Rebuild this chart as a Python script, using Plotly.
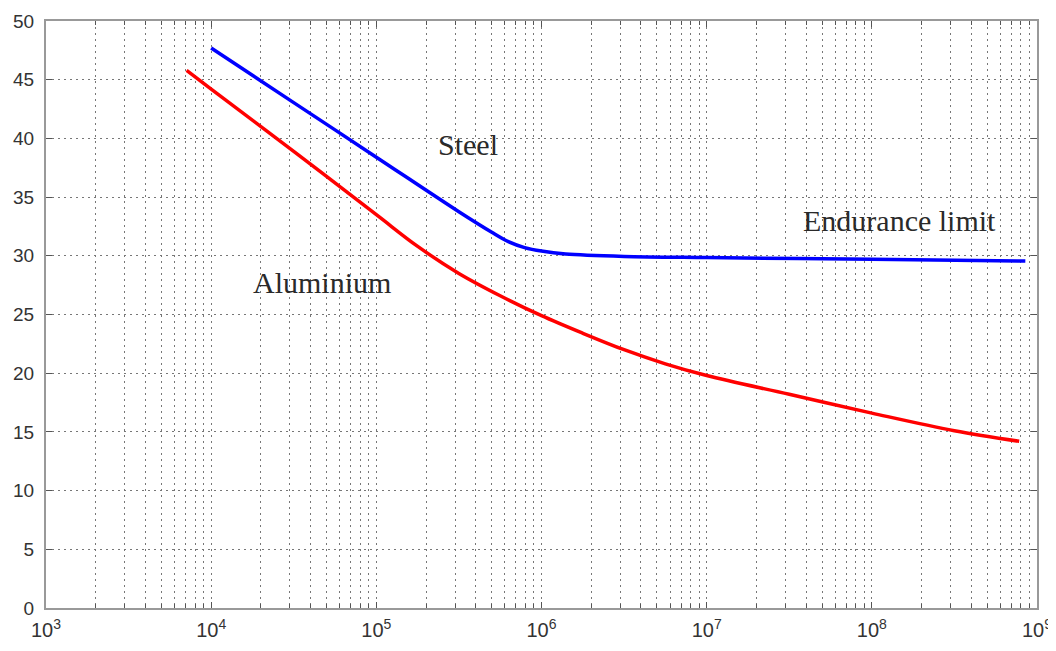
import math
import plotly.graph_objects as go

# ---- data ----
steel_N = [1.0e4, 3.16e4, 1.0e5, 3.16e5, 5.0e5, 6.3e5, 7.9e5, 1.0e6, 1.4e6, 3.16e6, 1.0e7, 1.0e8, 8.5e8]
steel_S = [47.7, 43.05, 38.4, 33.75, 32.0, 31.2, 30.7, 30.4, 30.15, 29.95, 29.85, 29.7, 29.55]

alu_N = [7.1e3, 1.0e4, 3.16e4, 1.0e5, 1.78e5, 3.16e5, 5.62e5, 1.0e6, 1.78e6, 3.16e6,
         5.62e6, 1.0e7, 3.16e7, 1.0e8, 3.16e8, 7.8e8]
alu_S = [45.8, 44.2, 38.9, 33.5, 30.8, 28.5, 26.6, 24.9, 23.4, 22.0,
         20.8, 19.8, 18.2, 16.6, 15.1, 14.2]

x_exponents = [3, 4, 5, 6, 7, 8, 9]
x_tickvals = [10 ** e for e in x_exponents]
x_ticktext = ["10<sup>%d</sup>" % e for e in x_exponents]
x_minor = [m * 10 ** e for e in x_exponents[:-1] for m in range(2, 10)]
y_tickvals = [0, 5, 10, 15, 20, 25, 30, 35, 40, 45, 50]

labels = ["Steel", "Aluminium", "Endurance limit"]
label_N = [2.29e5, 1.74e4, 3.70e7]
label_S = [39.45, 27.7, 33.0]

fig = go.Figure()
fig.add_trace(go.Scatter(x=steel_N, y=steel_S, mode="lines", name="Steel",
                         line=dict(color="#0000FF", width=3.5, shape="spline", smoothing=0.9)))
fig.add_trace(go.Scatter(x=alu_N, y=alu_S, mode="lines", name="Aluminium",
                         line=dict(color="#FF0000", width=3.5, shape="spline", smoothing=1.0)))

for t, n, s in zip(labels, label_N, label_S):
    fig.add_annotation(x=math.log10(n), y=s, text=t, showarrow=False,
                       xanchor="left", yanchor="middle",
                       font=dict(family="Liberation Serif", size=30, color="#2a2a2a"))

grid_col = "#777777"
fig.update_xaxes(type="log", range=[3, 9], tickvals=x_tickvals, ticktext=x_ticktext,
                 showgrid=True, gridcolor=grid_col, griddash="2px,4px", gridwidth=1,
                 ticks="inside", ticklen=6, tickcolor="#555",
                 showline=True, linecolor="#999", linewidth=2, mirror="allticks",
                 minor=dict(tickvals=x_minor, showgrid=True, gridcolor=grid_col,
                            griddash="2px,4px", gridwidth=1, ticks="inside",
                            ticklen=4, tickcolor="#555"),
                 tickfont=dict(family="Liberation Sans", size=20, color="#333"),
                 ticklabelstandoff=3, automargin=False, zeroline=False)
fig.update_yaxes(range=[0, 50], tickvals=y_tickvals,
                 showgrid=True, gridcolor=grid_col, griddash="2px,4px", gridwidth=1,
                 ticks="inside", ticklen=6, tickcolor="#555",
                 showline=True, linecolor="#999", linewidth=2, mirror="allticks",
                 tickfont=dict(family="Liberation Sans", size=19, color="#333"),
                 ticklabelstandoff=6, automargin=False, zeroline=False)

# the page body has an 8px default margin, so the figure is sized/offset to compensate
fig.update_layout(width=1048, height=643, showlegend=False,
                  plot_bgcolor="white", paper_bgcolor="white",
                  margin=dict(l=38, r=19, t=13, b=43))

fig.write_html("out.html")
